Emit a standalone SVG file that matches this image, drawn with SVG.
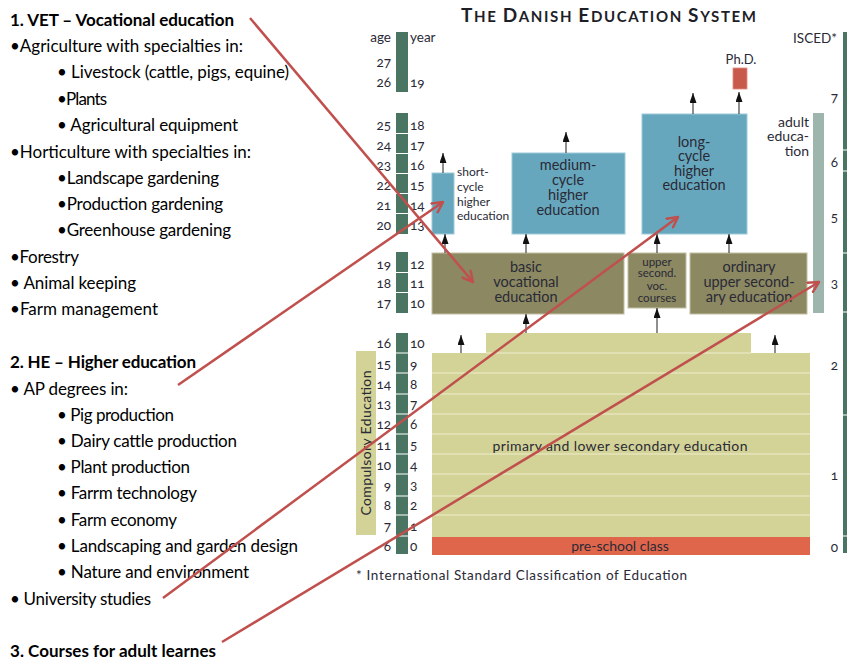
<svg xmlns="http://www.w3.org/2000/svg" width="847" height="660" viewBox="0 0 847 660">
<style>
.lt{font-family:Lato,"Liberation Sans",sans-serif;font-size:17px;fill:#000}
.lb{font-weight:bold}
.d{font-family:Lato,"Liberation Sans",sans-serif;fill:#2a2a36;font-variant-numeric:oldstyle-nums}
.n{font-size:13.5px}
.e{text-anchor:end}
.m{text-anchor:middle}
.bx{font-size:14.5px;text-anchor:middle}
.sep{stroke:#fff;stroke-width:1.2}
.psep{stroke:#eeedd0;stroke-width:1.2}
.ba{stroke:#444;stroke-width:1.2;fill:none;marker-end:url(#ah)}
.ra{stroke:#c0504d;stroke-width:2.5;fill:none;marker-end:url(#rh)}
.blue{fill:#67a7bd;stroke:#9ccada;stroke-width:1}
.olive{fill:#8b8862;stroke:#c2c0a0;stroke-width:1}
.green{fill:#4a7562}
</style>
<defs>
<marker id="ah" viewBox="0 0 10 7" refX="10" refY="3.5" markerUnits="userSpaceOnUse" markerWidth="10" markerHeight="7" orient="auto">
<path d="M0,0 L10,3.5 L0,7 Z" fill="#111"/>
</marker>
<marker id="rh" viewBox="0 0 12 12" refX="10.5" refY="6" markerUnits="userSpaceOnUse" markerWidth="13" markerHeight="13" orient="auto">
<path d="M1,1 L10.5,6 L1,11" fill="none" stroke="#c0504d" stroke-width="2.3" stroke-linecap="round" stroke-linejoin="round"/>
</marker>
</defs>

<!-- left text -->
<g id="left-text">
<text class="lt lb" x="10" y="26" textLength="224">1. VET – Vocational education</text>
<text class="lt" x="10" y="52" textLength="233">•Agriculture with specialties in:</text>
<text class="lt" x="57" y="78" textLength="232">• Livestock (cattle, pigs, equine)</text>
<text class="lt" x="57" y="105" textLength="50">•Plants</text>
<text class="lt" x="57" y="131" textLength="181">• Agricultural equipment</text>
<text class="lt" x="10" y="158" textLength="241">•Horticulture with specialties in:</text>
<text class="lt" x="57" y="184" textLength="162">•Landscape gardening</text>
<text class="lt" x="57" y="210" textLength="166">•Production gardening</text>
<text class="lt" x="57" y="236" textLength="174">•Greenhouse gardening</text>
<text class="lt" x="10" y="263" textLength="69">•Forestry</text>
<text class="lt" x="10" y="289" textLength="126">• Animal keeping</text>
<text class="lt" x="10" y="315" textLength="148">•Farm management</text>
<text class="lt lb" x="10" y="368" textLength="186">2. HE – Higher education</text>
<text class="lt" x="10" y="395" textLength="118">• AP degrees in:</text>
<text class="lt" x="57" y="421" textLength="117">• Pig production</text>
<text class="lt" x="57" y="447" textLength="180">• Dairy cattle production</text>
<text class="lt" x="57" y="473" textLength="133">• Plant production</text>
<text class="lt" x="57" y="499" textLength="140">• Farrm technology</text>
<text class="lt" x="57" y="526" textLength="120">• Farm economy</text>
<text class="lt" x="57" y="552" textLength="241">• Landscaping and garden design</text>
<text class="lt" x="57" y="578" textLength="192">• Nature and environment</text>
<text class="lt" x="10" y="605" textLength="141">• University studies</text>
<text class="lt lb" x="10" y="657" textLength="206">3. Courses for adult learnes</text>
</g>

<!-- title -->
<text id="title" class="d" x="461" y="22" font-weight="bold" font-size="19" fill="#1e1e28" textLength="295" style="fill:#1e1e28">T<tspan font-size="15">HE </tspan>D<tspan font-size="15">ANISH </tspan>E<tspan font-size="15">DUCATION </tspan>S<tspan font-size="15">YSTEM</tspan></text>

<!-- age/year scale -->
<g id="age-scale">
<rect class="green" x="396" y="32" width="12" height="60"/>
<rect class="green" x="396" y="113" width="12" height="121"/>
<rect class="green" x="396" y="252" width="12" height="61"/>
<rect class="green" x="396" y="333" width="12" height="221"/>
<path class="sep" d="M396,133.5h12M396,153.5h12M396,173.5h12M396,193.5h12M396,213.5h12M396,272.5h12M396,292.5h12M396,353h12M396,373h12M396,394h12M396,414h12M396,434h12M396,454h12M396,474h12M396,496h12M396,515h12M396,536h12"/>
<text class="d n e" x="391" y="42">age</text>
<text class="d n" x="410" y="42">year</text>
<text class="d n e" x="391" y="67">27</text>
<text class="d n e" x="391" y="87">26</text><text class="d n" x="410" y="87">19</text>
<text class="d n e" x="391" y="130">25</text><text class="d n" x="410" y="130">18</text>
<text class="d n e" x="391" y="150">24</text><text class="d n" x="410" y="150">17</text>
<text class="d n e" x="391" y="170">23</text><text class="d n" x="410" y="170">16</text>
<text class="d n e" x="391" y="190">22</text><text class="d n" x="410" y="190">15</text>
<text class="d n e" x="391" y="210">21</text><text class="d n" x="410" y="210">14</text>
<text class="d n e" x="391" y="230">20</text><text class="d n" x="410" y="230">13</text>
<text class="d n e" x="391" y="269">19</text><text class="d n" x="410" y="269">12</text>
<text class="d n e" x="391" y="288">18</text><text class="d n" x="410" y="288">11</text>
<text class="d n e" x="391" y="308">17</text><text class="d n" x="410" y="308">10</text>
<text class="d n e" x="391" y="348">16</text><text class="d n" x="410" y="348">10</text>
<text class="d n e" x="391" y="369">15</text><text class="d n" x="410" y="369">9</text>
<text class="d n e" x="391" y="389">14</text><text class="d n" x="410" y="389">8</text>
<text class="d n e" x="391" y="409">13</text><text class="d n" x="410" y="409">7</text>
<text class="d n e" x="391" y="429">12</text><text class="d n" x="410" y="429">6</text>
<text class="d n e" x="391" y="450">11</text><text class="d n" x="410" y="450">5</text>
<text class="d n e" x="391" y="470">10</text><text class="d n" x="410" y="470">4</text>
<text class="d n e" x="391" y="490">9</text><text class="d n" x="410" y="490">3</text>
<text class="d n e" x="391" y="510">8</text><text class="d n" x="410" y="510">2</text>
<text class="d n e" x="391" y="531">7</text><text class="d n" x="410" y="531">1</text>
<text class="d n e" x="391" y="551">6</text><text class="d n" x="410" y="551">0</text>
</g>

<!-- ISCED scale -->
<g id="isced-scale">
<rect class="green" x="843" y="32" width="4" height="521"/>
<path class="sep" d="M843,150h4M843,171h4M843,253h4M843,312h4M843,415h4M843,536h4"/>
<text class="d n e" x="837" y="43">ISCED*</text>
<text class="d n e" x="838" y="102">7</text>
<text class="d n e" x="838" y="167">6</text>
<text class="d n e" x="838" y="222">5</text>
<text class="d n e" x="838" y="288">3</text>
<text class="d n e" x="838" y="370">2</text>
<text class="d n e" x="838" y="480">1</text>
<text class="d n e" x="838" y="552">0</text>
</g>

<!-- compulsory -->
<g id="compulsory">
<rect x="356" y="351" width="20" height="184" fill="#d3d297"/>
<text class="d m" font-size="14" transform="translate(371,443) rotate(-90)" textLength="145">Compulsory Education</text>
</g>

<g id="phd">
<rect x="733" y="68" width="14" height="21" fill="#c85a4c" stroke="#e08a7e" stroke-width="0.8"/>
<text class="d m" font-size="13" x="741" y="64">Ph.D.</text>
</g>

<g id="short-cycle">
<rect class="blue" x="432" y="173" width="22" height="61"/>
<text class="d" font-size="12" x="457" y="176">short-</text>
<text class="d" font-size="12" x="457" y="191">cycle</text>
<text class="d" font-size="12" x="457" y="206">higher</text>
<text class="d" font-size="12" x="457" y="220">education</text>
</g>

<g id="medium-cycle">
<rect class="blue" x="512" y="153" width="113" height="81"/>
<text class="d bx" x="568" y="170">medium-</text>
<text class="d bx" x="568" y="185">cycle</text>
<text class="d bx" x="568" y="200">higher</text>
<text class="d bx" x="568" y="215">education</text>
</g>

<g id="long-cycle">
<rect class="blue" x="642" y="114" width="105" height="120"/>
<text class="d bx" x="694" y="147">long-</text>
<text class="d bx" x="694" y="161">cycle</text>
<text class="d bx" x="694" y="176">higher</text>
<text class="d bx" x="694" y="190">education</text>
</g>

<g id="adult-education">
<rect x="813" y="113" width="11" height="200" fill="#9db5ac"/>
<text class="d e" font-size="14" x="809" y="127">adult</text>
<text class="d e" font-size="14" x="809" y="141">educa-</text>
<text class="d e" font-size="14" x="809" y="156">tion</text>
</g>

<g id="basic-vocational">
<rect class="olive" x="432" y="253" width="192" height="61"/>
<text class="d bx" x="526" y="272">basic</text>
<text class="d bx" x="526" y="287">vocational</text>
<text class="d bx" x="526" y="302">education</text>
</g>

<g id="upper-second-voc">
<rect class="olive" x="628" y="253" width="58" height="55"/>
<text class="d m" font-size="11.5" x="657" y="266">upper</text>
<text class="d m" font-size="11.5" x="657" y="277">second.</text>
<text class="d m" font-size="11.5" x="657" y="290">voc.</text>
<text class="d m" font-size="11.5" x="657" y="302">courses</text>
</g>

<g id="ordinary-upper-secondary">
<rect class="olive" x="690" y="253" width="117" height="61"/>
<text class="d bx" x="749" y="272">ordinary</text>
<text class="d bx" x="749" y="287">upper second-</text>
<text class="d bx" x="749" y="302">ary education</text>
</g>

<g id="primary">
<rect x="486" y="333" width="265" height="20" fill="#d3d297"/>
<rect x="432" y="353" width="378" height="184" fill="#d3d297"/>
<path class="psep" d="M486,353h265M432,373h378M432,394h378M432,414h378M432,434h378M432,454h378M432,474h378M432,496h378M432,515h378"/>
<text class="d m" font-size="14" x="620" y="451" textLength="255">primary and lower secondary education</text>
</g>

<g id="pre-school">
<rect x="432" y="537" width="378" height="18" fill="#e0664b"/>
<text class="d m" font-size="14" x="620" y="551">pre-school class</text>
</g>

<text id="footnote" class="d" font-size="13.5" x="356" y="580" textLength="331">* International Standard Classification of Education</text>

<g id="connectors">
<line class="ba" x1="443" y1="173" x2="443" y2="153"/>
<line class="ba" x1="566" y1="153" x2="566" y2="132"/>
<line class="ba" x1="693" y1="114" x2="693" y2="93"/>
<line class="ba" x1="739" y1="114" x2="739" y2="92"/>
<line class="ba" x1="445" y1="253" x2="445" y2="234"/>
<line class="ba" x1="526" y1="253" x2="526" y2="234"/>
<line class="ba" x1="657" y1="253" x2="657" y2="234"/>
<line class="ba" x1="729" y1="253" x2="729" y2="234"/>
<line class="ba" x1="526" y1="333" x2="526" y2="314"/>
<line class="ba" x1="657" y1="333" x2="657" y2="308"/>
<line class="ba" x1="461" y1="353" x2="461" y2="335"/>
<line class="ba" x1="775" y1="353" x2="775" y2="335"/>
<line class="ra" x1="250" y1="18" x2="473" y2="282"/>
<line class="ra" x1="178" y1="385" x2="443" y2="202"/>
<line class="ra" x1="163" y1="598" x2="678" y2="217"/>
<line class="ra" x1="222" y1="642" x2="819" y2="282"/>
</g>
</svg>
